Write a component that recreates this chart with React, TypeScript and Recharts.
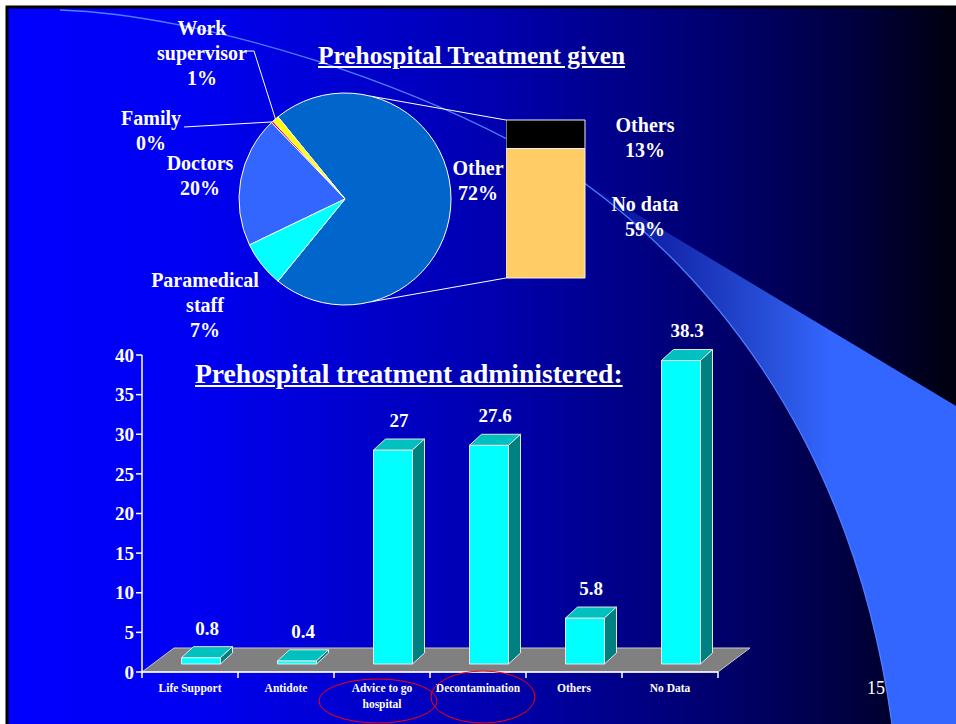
import React from "react";
import {
  PieChart, Pie, Cell, BarChart, Bar, XAxis, YAxis, LabelList, ReferenceLine,
} from "recharts";

const FONT = '"Liberation Serif", "Times New Roman", Times, serif';

// pie: who gave the prehospital treatment
const PIE_NAMES = ["Other", "Work supervisor", "Family", "Doctors", "Paramedical staff"];
const PIE_VALUES = [72, 1, 0.3, 20, 7];
const PIE_COLORS = ["#0066CC", "#FFFF00", "#FF0000", "#3366FF", "#00FFFF"];

// bar of pie: what "Other" is made of
const OTHER_NAMES = ["No data", "Others"];
const OTHER_VALUES = [59, 13];
const OTHER_COLORS = ["#FFCC66", "#000000"];

// 3d column chart
const CATEGORIES = ["Life Support", "Antidote", "Advice to go hospital", "Decontamination", "Others", "No Data"];
const VALUES = [0.8, 0.4, 27, 27.6, 5.8, 38.3];
const Y_TICKS = [0, 5, 10, 15, 20, 25, 30, 35, 40];

// layout (page coordinates)
const PIE_LEFT = 100;
const PIE_CX = 245;
const PIE_CY = 199;
const PIE_R = 106;
const STACK_LEFT = 506;
const STACK_TOP = 120;
const STACK_W = 79;
const STACK_H = 158;
const STACK_PAD = 20;

const COL_LEFT = 100;
const COL_TOP = 320;
const COL_W = 680;
const COL_H = 404;
const COL_MARGIN = { top: 35, right: 62, bottom: 0, left: 0 };
const Y_AXIS_W = 42;
const PLOT_W = COL_W - COL_MARGIN.left - COL_MARGIN.right - Y_AXIS_W;
const BAND = PLOT_W / CATEGORIES.length;

// 3d look
const SHIFT_X = 10.5;
const SHIFT_Y = 8;
const DEPTH_X = 12;
const DEPTH_Y = 11;
const FLOOR_X = 32;
const FLOOR_Y = 24;

const pieData = PIE_NAMES.map((name, i) => ({ name, value: PIE_VALUES[i] }));
const pieTotal = PIE_VALUES.reduce((a, b) => a + b, 0);
const pieStart = -(PIE_VALUES[0] / pieTotal) * 180;

const otherRow: Record<string, any> = { name: "Other" };
OTHER_NAMES.forEach((n, i) => { otherRow[n] = OTHER_VALUES[i]; });
const otherTotal = OTHER_VALUES.reduce((a, b) => a + b, 0);

const columnData = CATEGORIES.map((name, i) => ({ name, value: VALUES[i] }));

// label anchors relative to the pie centre (first line centre)
const PIE_LABEL_POS: Record<string, [number, number]> = {
  "Other": [133, -31],
  "Work supervisor": [-143, -171],
  "Family": [-194, -81],
  "Doctors": [-145, -36],
  "Paramedical staff": [-140, 81],
};
const LEADERS: Record<string, [number, number][]> = {
  "Work supervisor": [[-100, -148], [-91, -148]],
  "Family": [[-161, -72]],
};

const bold = (size: number) => ({
  fill: "#FFFFFF", fontSize: size, fontWeight: "bold" as const, fontFamily: FONT,
});

function renderPieLabel(p: any) {
  const { cx, cy, midAngle, outerRadius, percent, name } = p;
  const pos = PIE_LABEL_POS[name];
  if (!pos) return null;
  const lines = [...String(name).split(" "), `${Math.round(percent * 100)}%`];
  const rad = Math.PI / 180;
  const ex = cx + outerRadius * Math.cos(-midAngle * rad);
  const ey = cy + outerRadius * Math.sin(-midAngle * rad);
  const leader = LEADERS[name];
  return (
    <g>
      {leader && (
        <polyline
          points={[...leader.map(([dx, dy]) => `${cx + dx},${cy + dy}`), `${ex},${ey}`].join(" ")}
          fill="none" stroke="#FFFFFF" strokeWidth={1}
        />
      )}
      <text textAnchor="middle" {...bold(20)}>
        {lines.map((l, i) => (
          <tspan key={i} x={cx + pos[0]} y={cy + pos[1] + 7 + i * 25}>{l}</tspan>
        ))}
      </text>
    </g>
  );
}

function renderStackLabel(p: any, name: string) {
  const { x, y, width, height, value } = p;
  const cx = Number(x) + Number(width) + 60;
  const top = Number(y) + Number(height) / 2 - 9;
  return (
    <text textAnchor="middle" {...bold(20)}>
      <tspan x={cx} y={top + 7}>{name}</tspan>
      <tspan x={cx} y={top + 32}>{`${value}%`}</tspan>
    </text>
  );
}

const Floor = (p: any) => {
  const { x1, y1, x2 } = p;
  return (
    <polygon
      points={`${x1},${y1} ${x2},${y1} ${x2 + FLOOR_X},${y1 - FLOOR_Y} ${x1 + FLOOR_X},${y1 - FLOOR_Y}`}
      fill="#808080" stroke="#C8C8C8" strokeWidth={1}
    />
  );
};

const Column3D = (p: any) => {
  const x = p.x + SHIFT_X;
  const y = p.y - SHIFT_Y;
  const w = p.width;
  const h = p.height;
  const edge = { stroke: "#E6E6E6", strokeWidth: 1, strokeLinejoin: "round" as const };
  return (
    <g>
      <rect x={x} y={y} width={w} height={h} fill="#00FFFF" {...edge} />
      <polygon
        points={`${x},${y} ${x + DEPTH_X},${y - DEPTH_Y} ${x + w + DEPTH_X},${y - DEPTH_Y} ${x + w},${y}`}
        fill="#00C0C0" {...edge}
      />
      <polygon
        points={`${x + w},${y} ${x + w + DEPTH_X},${y - DEPTH_Y} ${x + w + DEPTH_X},${y + h - DEPTH_Y} ${x + w},${y + h}`}
        fill="#008080" {...edge}
      />
    </g>
  );
};

const ValueLabel = (p: any) => {
  const { x, y, width, value } = p;
  return (
    <text
      x={Number(x) + Number(width) / 2 + SHIFT_X + DEPTH_X / 2}
      y={Number(y) - SHIFT_Y - DEPTH_Y - 12}
      textAnchor="middle" {...bold(19)}
    >
      {value}
    </text>
  );
};

function wrap(label: string, max: number) {
  const out: string[] = [];
  let cur = "";
  label.split(" ").forEach((w) => {
    const next = cur ? `${cur} ${w}` : w;
    if (next.length > max && cur) { out.push(cur); cur = w; } else cur = next;
  });
  if (cur) out.push(cur);
  return out;
}

const CategoryTick = (p: any) => {
  const { x, y, payload, index } = p;
  const lines = wrap(String(payload.value), 13);
  return (
    <g>
      <line x1={x - BAND / 2} y1={y} x2={x - BAND / 2} y2={y + 6} stroke="#FFFFFF" strokeWidth={1.5} />
      {index === CATEGORIES.length - 1 && (
        <line x1={x + BAND / 2} y1={y} x2={x + BAND / 2} y2={y + 6} stroke="#FFFFFF" strokeWidth={1.5} />
      )}
      <text textAnchor="middle" {...bold(11.5)}>
        {lines.map((l, i) => (
          <tspan key={i} x={x} y={y + 20 + i * 16}>{l}</tspan>
        ))}
      </text>
    </g>
  );
};

const abs = (left: number, top: number): React.CSSProperties => ({ position: "absolute", left, top });

export default function App() {
  const rad = Math.PI / 180;
  const pcx = PIE_LEFT + PIE_CX;
  const edgeX = pcx + PIE_R * Math.cos(76 * rad);
  const edgeDy = PIE_R * Math.sin(76 * rad);

  return (
    <div style={{ position: "absolute", left: 0, top: 0, width: 956, height: 724, overflow: "hidden", background: "#FFFFFF", fontFamily: FONT }}>
      {/* slide background */}
      <svg width={956} height={724} style={abs(0, 0)}>
        <defs>
          <linearGradient id="bg" x1="0" y1="0" x2="1" y2="0">
            <stop offset="0" stopColor="#0000FF" />
            <stop offset="0.2" stopColor="#0000F2" />
            <stop offset="0.5" stopColor="#0000B0" />
            <stop offset="0.75" stopColor="#00006A" />
            <stop offset="0.88" stopColor="#000040" />
            <stop offset="1" stopColor="#000008" />
          </linearGradient>
          <linearGradient id="wedge" gradientUnits="userSpaceOnUse" x1="590" y1="0" x2="830" y2="0">
            <stop offset="0" stopColor="#3366FF" stopOpacity={0.1} />
            <stop offset="1" stopColor="#3366FF" stopOpacity={1} />
          </linearGradient>
        </defs>
        <rect x={7} y={7} width={960} height={730} fill="url(#bg)" stroke="#000000" strokeWidth={3} />
        <path d="M583,182 L956,406 L956,724 L892,724 C850,420 690,260 583,182 Z" fill="url(#wedge)" />
        <path d="M60,10 C200,15 420,80 583,182 C690,260 850,420 892,724" fill="none" stroke="#4D7FFF" strokeWidth={1.3} />
        <line x1={edgeX} y1={PIE_CY - edgeDy} x2={STACK_LEFT} y2={STACK_TOP} stroke="#FFFFFF" strokeWidth={1} />
        <line x1={edgeX} y1={PIE_CY + edgeDy} x2={STACK_LEFT} y2={STACK_TOP + STACK_H} stroke="#FFFFFF" strokeWidth={1} />
      </svg>

      {/* pie */}
      <div style={abs(PIE_LEFT, 0)}>
        <PieChart width={460} height={345} margin={{ top: 0, right: 0, bottom: 0, left: 0 }}>
          <Pie
            data={pieData} dataKey="value" nameKey="name"
            cx={PIE_CX} cy={PIE_CY} outerRadius={PIE_R}
            startAngle={pieStart} endAngle={pieStart + 360}
            stroke="#FFFFFF" strokeWidth={1}
            label={renderPieLabel} labelLine={false}
            isAnimationActive={false}
          >
            {pieData.map((d, i) => <Cell key={d.name} fill={PIE_COLORS[i]} />)}
          </Pie>
        </PieChart>
      </div>

      {/* bar of pie */}
      <div style={abs(STACK_LEFT, STACK_TOP - STACK_PAD)}>
        <BarChart
          width={200} height={STACK_H + 2 * STACK_PAD} data={[otherRow]}
          margin={{ top: STACK_PAD, right: 200 - STACK_W, bottom: STACK_PAD, left: 0 }}
          barCategoryGap={0}
        >
          <XAxis dataKey="name" hide />
          <YAxis hide domain={[0, otherTotal]} />
          {OTHER_NAMES.map((n, i) => (
            <Bar key={n} dataKey={n} stackId="a" fill={OTHER_COLORS[i]} stroke="#F0F0F0" strokeWidth={1} isAnimationActive={false}>
              <LabelList dataKey={n} content={(p: any) => renderStackLabel(p, n)} />
            </Bar>
          ))}
        </BarChart>
      </div>

      {/* 3d columns */}
      <div style={abs(COL_LEFT, COL_TOP)}>
        <BarChart width={COL_W} height={COL_H} data={columnData} margin={COL_MARGIN}>
          <ReferenceLine y={0} shape={Floor} zIndex={-10} />
          <XAxis
            dataKey="name" height={52} interval={0} tickSize={0} tickMargin={0} tickLine={false}
            axisLine={{ stroke: "#FFFFFF", strokeWidth: 1.5 }} tick={CategoryTick}
          />
          <YAxis
            width={Y_AXIS_W} domain={[0, 40]} ticks={Y_TICKS} interval={0} tickSize={6} tickMargin={2}
            axisLine={{ stroke: "#FFFFFF", strokeWidth: 1.5 }} tickLine={{ stroke: "#FFFFFF", strokeWidth: 1.5 }}
            tick={bold(19)}
          />
          <Bar dataKey="value" barSize={39} shape={Column3D} isAnimationActive={false}>
            <LabelList dataKey="value" content={ValueLabel} />
          </Bar>
        </BarChart>
      </div>

      {/* titles */}
      <div style={{ ...abs(318, 43), color: "#FFFFFF", fontSize: 25.4, fontWeight: "bold", lineHeight: 1, textDecoration: "underline", whiteSpace: "nowrap" }}>
        Prehospital Treatment given
      </div>
      <div style={{ ...abs(195, 360), color: "#FFFFFF", fontSize: 27.6, fontWeight: "bold", lineHeight: 1, textDecoration: "underline", whiteSpace: "nowrap" }}>
        Prehospital treatment administered:
      </div>

      {/* annotations */}
      <svg width={956} height={724} style={{ ...abs(0, 0), pointerEvents: "none" }}>
        <ellipse cx={378} cy={701} rx={59} ry={22} fill="none" stroke="#FF0000" strokeWidth={1} />
        <ellipse cx={483} cy={697} rx={52} ry={26} fill="none" stroke="#FF0000" strokeWidth={1} />
        <text x={876} y={694} textAnchor="middle" fill="#FFFFFF" fontSize={18} fontFamily={FONT}>15</text>
      </svg>
    </div>
  );
}
